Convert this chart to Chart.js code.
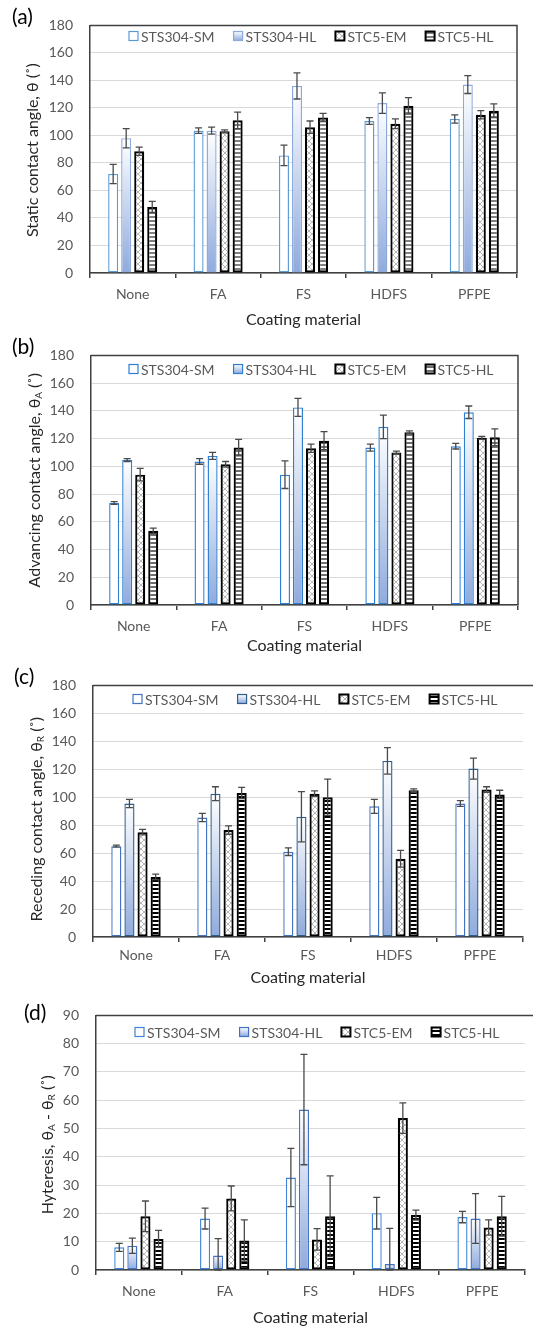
<!DOCTYPE html>
<html>
<head>
<meta charset="utf-8">
<script src="https://cdn.jsdelivr.net/npm/chart.js@4.4.1/dist/chart.umd.min.js"></script>
<style>
  body { margin: 0; background: #fff; width: 533px; height: 1327px; position: relative; overflow: hidden; }
  .panel { position: absolute; left: 0; width: 533px; }
</style>
</head>
<body>
<div class="panel" style="top:0;height:330px"><canvas id="chartA"></canvas></div>
<div class="panel" style="top:330px;height:330px"><canvas id="chartB"></canvas></div>
<div class="panel" style="top:660px;height:330px"><canvas id="chartC"></canvas></div>
<div class="panel" style="top:990px;height:337px"><canvas id="chartD"></canvas></div>
<script>
const coatings = ['None', 'FA', 'FS', 'HDFS', 'PFPE'];
const seriesNames = ['STS304-SM', 'STS304-HL', 'STC5-EM', 'STC5-HL'];

// (a) static contact angle
const staticSM = [72, 103.5, 85.5, 110.5, 112];
const staticSMErr = [7, 2, 7.5, 2.5, 3];
const staticHL = [98, 103.5, 136, 123.5, 137];
const staticHLErr = [7, 2.5, 9.5, 7.5, 6.5];
const staticEM = [88.5, 103, 106, 108.5, 115];
const staticEMErr = [3, 1, 4.5, 3.5, 3];
const staticC5HL = [48, 111, 113, 121.5, 118];
const staticC5HLErr = [4, 6, 3, 6, 5];

// (b) advancing contact angle
const advSM = [73.5, 103.5, 94, 113.5, 114.5];
const advSMErr = [1, 2, 10, 2.5, 2];
const advHL = [104.5, 107.5, 142.5, 128.5, 139];
const advHLErr = [1, 2.5, 6.5, 8.5, 4.5];
const advEM = [94, 101.5, 113, 110, 120.5];
const advEMErr = [4.5, 2, 3, 1, 1];
const advC5HL = [53.5, 113.5, 118.5, 124.5, 121];
const advC5HLErr = [2, 6, 6.5, 1, 6];

// (c) receding contact angle
const recSM = [65, 85.5, 61, 93.5, 95.5];
const recSMErr = [0.7, 3, 2.7, 5, 2];
const recHL = [95.5, 102.5, 86, 126, 120.5];
const recHLErr = [3, 5, 18, 9.5, 7.5];
const recEM = [75, 76.5, 102.5, 56, 105.5];
const recEMErr = [2, 3, 2, 6, 2];
const recC5HL = [43, 103, 100, 105, 102];
const recC5HLErr = [2, 4, 13, 1, 3];

// (d) hysteresis
const hysSM = [8, 18.2, 32.7, 20.1, 18.7];
const hysSMErr = [1.4, 3.7, 10.3, 5.6, 2];
const hysHL = [8.6, 5.1, 56.7, 2.1, 18.2];
const hysHLErr = [2.7, 6, 19.5, 12.6, 8.8];
const hysEM = [19, 25.3, 10.8, 53.7, 15];
const hysEMErr = [5.4, 4.4, 3.8, 5.4, 2.7];
const hysC5HL = [11, 10.4, 19, 19.4, 19];
const hysC5HLErr = [3, 7.3, 14.3, 1.8, 7];

Chart.defaults.font.family = 'Lato, "Open Sans", sans-serif';

// small fill patterns for the STC5 bars
function crossHatch(color) {
  const c = document.createElement('canvas');
  c.width = 6; c.height = 6;
  const g = c.getContext('2d');
  g.fillStyle = '#fff';
  g.fillRect(0, 0, 6, 6);
  g.strokeStyle = color;
  g.lineWidth = 0.8;
  g.beginPath();
  g.moveTo(0, 0); g.lineTo(6, 6);
  g.moveTo(6, 0); g.lineTo(0, 6);
  g.stroke();
  return g.createPattern(c, 'repeat');
}

function hStripes(color, period, thick) {
  const c = document.createElement('canvas');
  c.width = 4; c.height = period;
  const g = c.getContext('2d');
  g.fillStyle = '#fff';
  g.fillRect(0, 0, 4, period);
  g.fillStyle = color;
  g.fillRect(0, 0, 4, thick);
  return g.createPattern(c, 'repeat');
}

// white-to-blue gradient running down each HL bar
function hlGradient(blue) {
  return (ctx) => {
    const chart = ctx.chart;
    const y = chart.scales.y;
    if (!chart.chartArea || !y || ctx.type !== 'data') return blue;
    const top = y.getPixelForValue(ctx.raw);
    const bottom = y.getPixelForValue(0);
    if (!isFinite(top) || !isFinite(bottom) || top === bottom) return blue;
    const g = chart.ctx.createLinearGradient(0, top, 0, bottom);
    g.addColorStop(0, '#ffffff');
    g.addColorStop(1, blue);
    return g;
  };
}

const panels = [
  {
    id: 'chartA', height: 330, letter: '(a)', letterX: 12, letterY: 17,
    area: { left: 90, top: 14, right: 517, bottom: 273 },
    yMax: 180, yStep: 20,
    yTitle: [['Static contact angle, θ (˚)', false]], titleX: 33, titleDY: 1,
    xLabelPad: 8, xTitleY: 320, legendX: 129, legendY: 36, extendFrame: false,
    values: [staticSM, staticHL, staticEM, staticC5HL],
    errors: [staticSMErr, staticHLErr, staticEMErr, staticC5HLErr],
    borders: ['#5B9BD5', '#8EA9DB', '#000000', '#000000'],
    hlBlue: '#8FAADC', hatch: '#a6a6a6', stripe: '#808080'
  },
  {
    id: 'chartB', height: 330, letter: '(b)', letterX: 12, letterY: 17,
    area: { left: 91, top: 17, right: 518, bottom: 275 },
    yMax: 180, yStep: 20,
    yTitle: [['Advancing contact angle, θ', false], ['A', true], [' (˚)', false]], titleX: 35, titleDY: 0,
    xLabelPad: 8, xTitleY: 316, legendX: 129, legendY: 39, extendFrame: false,
    values: [advSM, advHL, advEM, advC5HL],
    errors: [advSMErr, advHLErr, advEMErr, advC5HLErr],
    borders: ['#2E7FD2', '#2E7FD2', '#000000', '#000000'],
    hlBlue: '#8FAADC', hatch: '#a6a6a6', stripe: '#6e6e6e'
  },
  {
    id: 'chartC', height: 330, letter: '(c)', letterX: 14, letterY: 17,
    area: { left: 93, top: 17, right: 523, bottom: 277 },
    yMax: 180, yStep: 20,
    yTitle: [['Receding contact angle, θ', false], ['R', true], [' (˚)', false]], titleX: 37, titleDY: 8,
    xLabelPad: 5, xTitleY: 318, legendX: 133, legendY: 39, extendFrame: true,
    values: [recSM, recHL, recEM, recC5HL],
    errors: [recSMErr, recHLErr, recEMErr, recC5HLErr],
    borders: ['#4472C4', '#2F5D8C', '#000000', '#000000'],
    hlBlue: '#8FAADC', hatch: '#a6a6a6', stripe: '#000000'
  },
  {
    id: 'chartD', height: 337, letter: '(d)', letterX: 24, letterY: 23,
    area: { left: 96, top: 20, right: 525, bottom: 280 },
    yMax: 90, yStep: 10,
    yTitle: [['Hyteresis, θ', false], ['A', true], [' - θ', false], ['R', true], [' (˚)', false]], titleX: 48, titleDY: 2,
    xLabelPad: 8, xTitleY: 328, legendX: 135, legendY: 42, extendFrame: true,
    values: [hysSM, hysHL, hysEM, hysC5HL],
    errors: [hysSMErr, hysHLErr, hysEMErr, hysC5HLErr],
    borders: ['#3F84D6', '#4472C4', '#000000', '#000000'],
    hlBlue: '#8FAADC', hatch: '#a6a6a6', stripe: '#000000'
  }
];

// draws a text made of normal and subscript pieces, rotated for the y title
function drawRich(ctx, parts, cx, cy, size) {
  const big = size + 'px Lato, "Open Sans", sans-serif';
  const small = Math.round(size * 0.62) + 'px Lato, "Open Sans", sans-serif';
  let total = 0;
  parts.forEach(([t, sub]) => { ctx.font = sub ? small : big; total += ctx.measureText(t).width; });
  ctx.save();
  ctx.translate(cx, cy);
  ctx.rotate(-Math.PI / 2);
  ctx.textBaseline = 'middle';
  ctx.textAlign = 'left';
  let x = -total / 2;
  parts.forEach(([t, sub]) => {
    ctx.font = sub ? small : big;
    ctx.fillText(t, x, sub ? 4 : 0);
    x += ctx.measureText(t).width;
  });
  ctx.restore();
}

const panelDecor = {
  id: 'panelDecor',
  afterDatasetsDraw(chart, args, p) {
    const ctx = chart.ctx;
    const area = chart.chartArea;
    const y = chart.scales.y;

    // error bars
    ctx.save();
    ctx.strokeStyle = '#4a4a4a';
    ctx.lineWidth = 1.3;
    p.values.forEach((vals, i) => {
      const meta = chart.getDatasetMeta(i);
      meta.data.forEach((bar, j) => {
        const v = vals[j], e = p.errors[i][j];
        const yTop = y.getPixelForValue(v + e);
        const yBot = y.getPixelForValue(Math.max(0, v - e));
        ctx.beginPath();
        ctx.moveTo(bar.x, yTop); ctx.lineTo(bar.x, yBot);
        ctx.moveTo(bar.x - 3.5, yTop); ctx.lineTo(bar.x + 3.5, yTop);
        ctx.moveTo(bar.x - 3.5, yBot); ctx.lineTo(bar.x + 3.5, yBot);
        ctx.stroke();
      });
    });
    ctx.restore();

    // plot frame (top and right)
    ctx.save();
    ctx.strokeStyle = '#404040';
    ctx.lineWidth = 1.5;
    const right = p.extendFrame ? chart.width + 5 : area.right;
    ctx.beginPath();
    ctx.moveTo(area.left, area.top); ctx.lineTo(right, area.top); ctx.lineTo(right, area.bottom);
    ctx.stroke();
    ctx.restore();

    // legend inside the plot
    ctx.save();
    ctx.font = '14px Lato, "Open Sans", sans-serif';
    ctx.textBaseline = 'middle';
    let lx = p.legendX;
    const box = 9;
    seriesNames.forEach((name, i) => {
      const by = p.legendY - box / 2;
      let fill = '#fff';
      if (i === 1) {
        fill = ctx.createLinearGradient(0, by, 0, by + box);
        fill.addColorStop(0, '#ffffff');
        fill.addColorStop(1, p.hlBlue);
      } else if (i === 2) fill = p.hatchPattern;
      else if (i === 3) fill = p.stripePattern;
      ctx.fillStyle = fill;
      ctx.fillRect(lx, by, box, box);
      ctx.strokeStyle = p.borders[i];
      ctx.lineWidth = i >= 2 ? 2 : 1.2;
      ctx.strokeRect(lx, by, box, box);
      ctx.fillStyle = '#595959';
      ctx.fillText(name, lx + box + 3, p.legendY + 1);
      lx += box + 3 + ctx.measureText(name).width + 19;
    });
    ctx.restore();

    // titles and panel letter
    ctx.save();
    ctx.fillStyle = '#262626';
    drawRich(ctx, p.yTitle, p.titleX, (area.top + area.bottom) / 2 + p.titleDY, 16);
    ctx.font = '16px Lato, "Open Sans", sans-serif';
    ctx.textAlign = 'center';
    ctx.textBaseline = 'middle';
    ctx.fillText('Coating material', (area.left + area.right) / 2, p.xTitleY);
    ctx.fillStyle = '#000';
    ctx.font = '21px Lato, "Open Sans", sans-serif';
    ctx.textAlign = 'left';
    ctx.fillText(p.letter, p.letterX, p.letterY);
    ctx.restore();
  }
};

panels.forEach((p) => {
  p.hatchPattern = crossHatch(p.hatch);
  p.stripePattern = hStripes(p.stripe, 4, 2);
  const fills = [
    '#ffffff',
    hlGradient(p.hlBlue),
    p.hatchPattern,
    p.stripePattern
  ];
  const datasets = seriesNames.map((name, i) => ({
    label: name,
    data: p.values[i],
    backgroundColor: fills[i],
    borderColor: p.borders[i],
    borderWidth: i >= 2 ? 2.2 : 1.4,
    borderSkipped: false,
    categoryPercentage: 0.61,
    barPercentage: 0.77
  }));

  new Chart(document.getElementById(p.id), {
    type: 'bar',
    data: { labels: coatings, datasets },
    plugins: [panelDecor],
    options: {
      responsive: true,
      maintainAspectRatio: false,
      animation: false,
      layout: { padding: { top: p.area.top, right: 533 - p.area.right, left: 0, bottom: 0 } },
      plugins: {
        legend: { display: false },
        tooltip: { enabled: false },
        panelDecor: p
      },
      scales: {
        x: {
          offset: true,
          grid: { offset: true, drawOnChartArea: false, drawTicks: true, tickLength: 5, color: '#404040', lineWidth: 1.5 },
          border: { color: '#404040', width: 1.5 },
          ticks: { color: '#595959', font: { size: 14 }, padding: p.xLabelPad },
          afterFit: (scale) => { scale.height = p.height - p.area.bottom; }
        },
        y: {
          min: 0,
          max: p.yMax,
          ticks: { stepSize: p.yStep, color: '#595959', font: { size: 14 }, padding: 17 },
          grid: { color: '#d9d9d9', lineWidth: 1, drawTicks: false },
          border: { color: '#404040', width: 1.5 },
          afterFit: (scale) => { scale.width = p.area.left; }
        }
      }
    }
  });
});
</script>
</body>
</html>
